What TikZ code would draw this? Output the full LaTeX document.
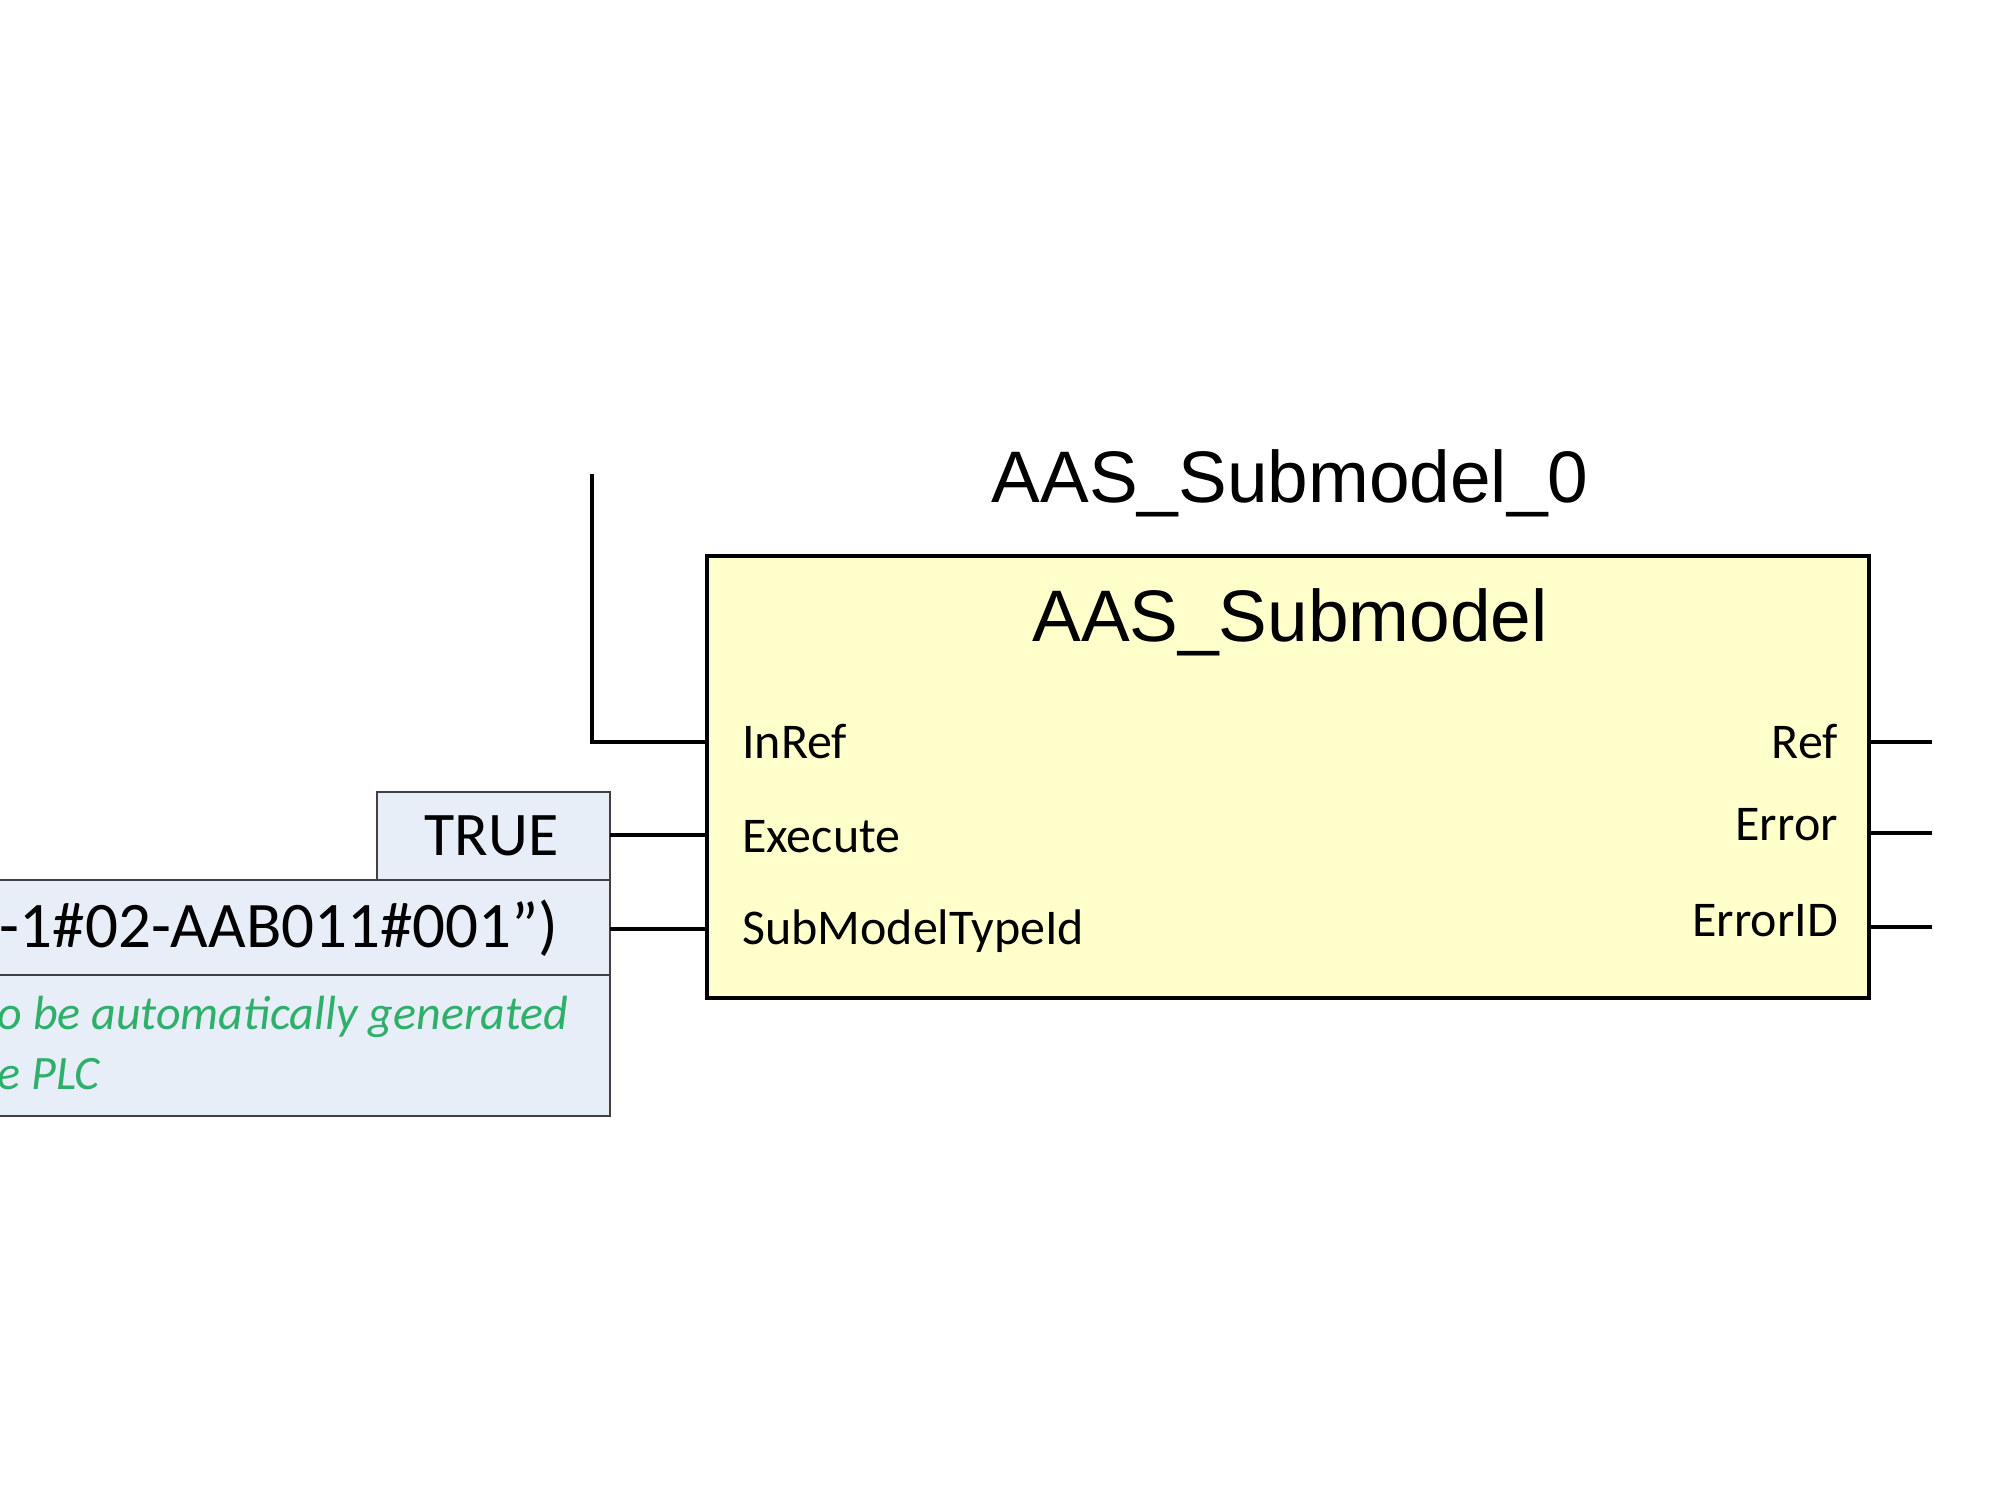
\documentclass[tikz,border=0pt]{standalone}
\usepackage{fontspec}
\setmainfont{Carlito}
\newfontfamily\arial{Liberation Sans}
\definecolor{fbfill}{HTML}{FFFFCC}
\definecolor{cfill}{HTML}{E8EEF7}
\definecolor{cgreen}{HTML}{2EAF6A}
\begin{document}
\begin{tikzpicture}[x=1pt,y=-1pt,
  wire/.style={line width=3.5pt},
  pin/.style={font=\fontsize{50}{54}\selectfont, inner sep=0pt},
  cbox/.style={draw=black!75, line width=2.5pt, fill=cfill}]
\useasboundingbox (0,0) rectangle (2000,1500);
\begin{scope}
\clip (0,0) rectangle (2000,1500);
% function block
\draw[line width=3.5pt, fill=fbfill] (707,556) rectangle (1869,998);
\node[font=\arial\fontsize{73}{78}\selectfont] (title) at (1290,483) {AAS\_Submodel\_0};
\node[font=\arial\fontsize{73}{78}\selectfont] (type) at (1290,622) {AAS\_Submodel};
% pins
\node[pin, anchor=west] (inref) at (742,742) {InRef};
\node[pin, anchor=west] (exec) at (742,837) {Execute};
\node[pin, anchor=west] (smt) at (742,931) {SubModelTypeId};
\node[pin, anchor=east] (ref) at (1838,742) {Ref};
\node[pin, anchor=east] (err) at (1838,825) {Error};
\node[pin, anchor=east] (eid) at (1838,921) {ErrorID};
\coordinate (inL) at (707,742);
\coordinate (exL) at (707,835);
\coordinate (smL) at (707,929);
\coordinate (rR) at (1932,742);
\coordinate (eR) at (1932,833);
\coordinate (iR) at (1932,927);
\coordinate (rB) at (1869,742);
\coordinate (eB) at (1869,833);
\coordinate (iB) at (1869,927);
\coordinate (top) at (592,474);
\draw[wire] (top) |- (inL);
\draw[wire] (rB) -- (rR);
\draw[wire] (eB) -- (eR);
\draw[wire] (iB) -- (iR);
% constant boxes
\draw[cbox] (-10,975) rectangle (610,1116);
\draw[cbox] (-10,880) rectangle (610,975);
\draw[cbox] (377,792) rectangle (610,880);
\node[font=\fontsize{62}{66}\selectfont, anchor=east] (true) at (562,836) {TRUE};
\node[font=\fontsize{65}{70}\selectfont, anchor=east] (id) at (562,928) {-1\#02-AAB011\#001”)};
\node[font=\itshape\fontsize{48}{52}\selectfont, text=cgreen, anchor=west] (c1) at (-6,1017) {o be automatically generated};
\node[font=\itshape\fontsize{48}{52}\selectfont, text=cgreen, anchor=west] (c2) at (-6,1074) {e PLC};
\coordinate (tR) at (610,835);
\coordinate (iRb) at (610,929);
\draw[wire] (tR) -- (exL);
\draw[wire] (iRb) -- (smL);
\end{scope}
\end{tikzpicture}
\end{document}
